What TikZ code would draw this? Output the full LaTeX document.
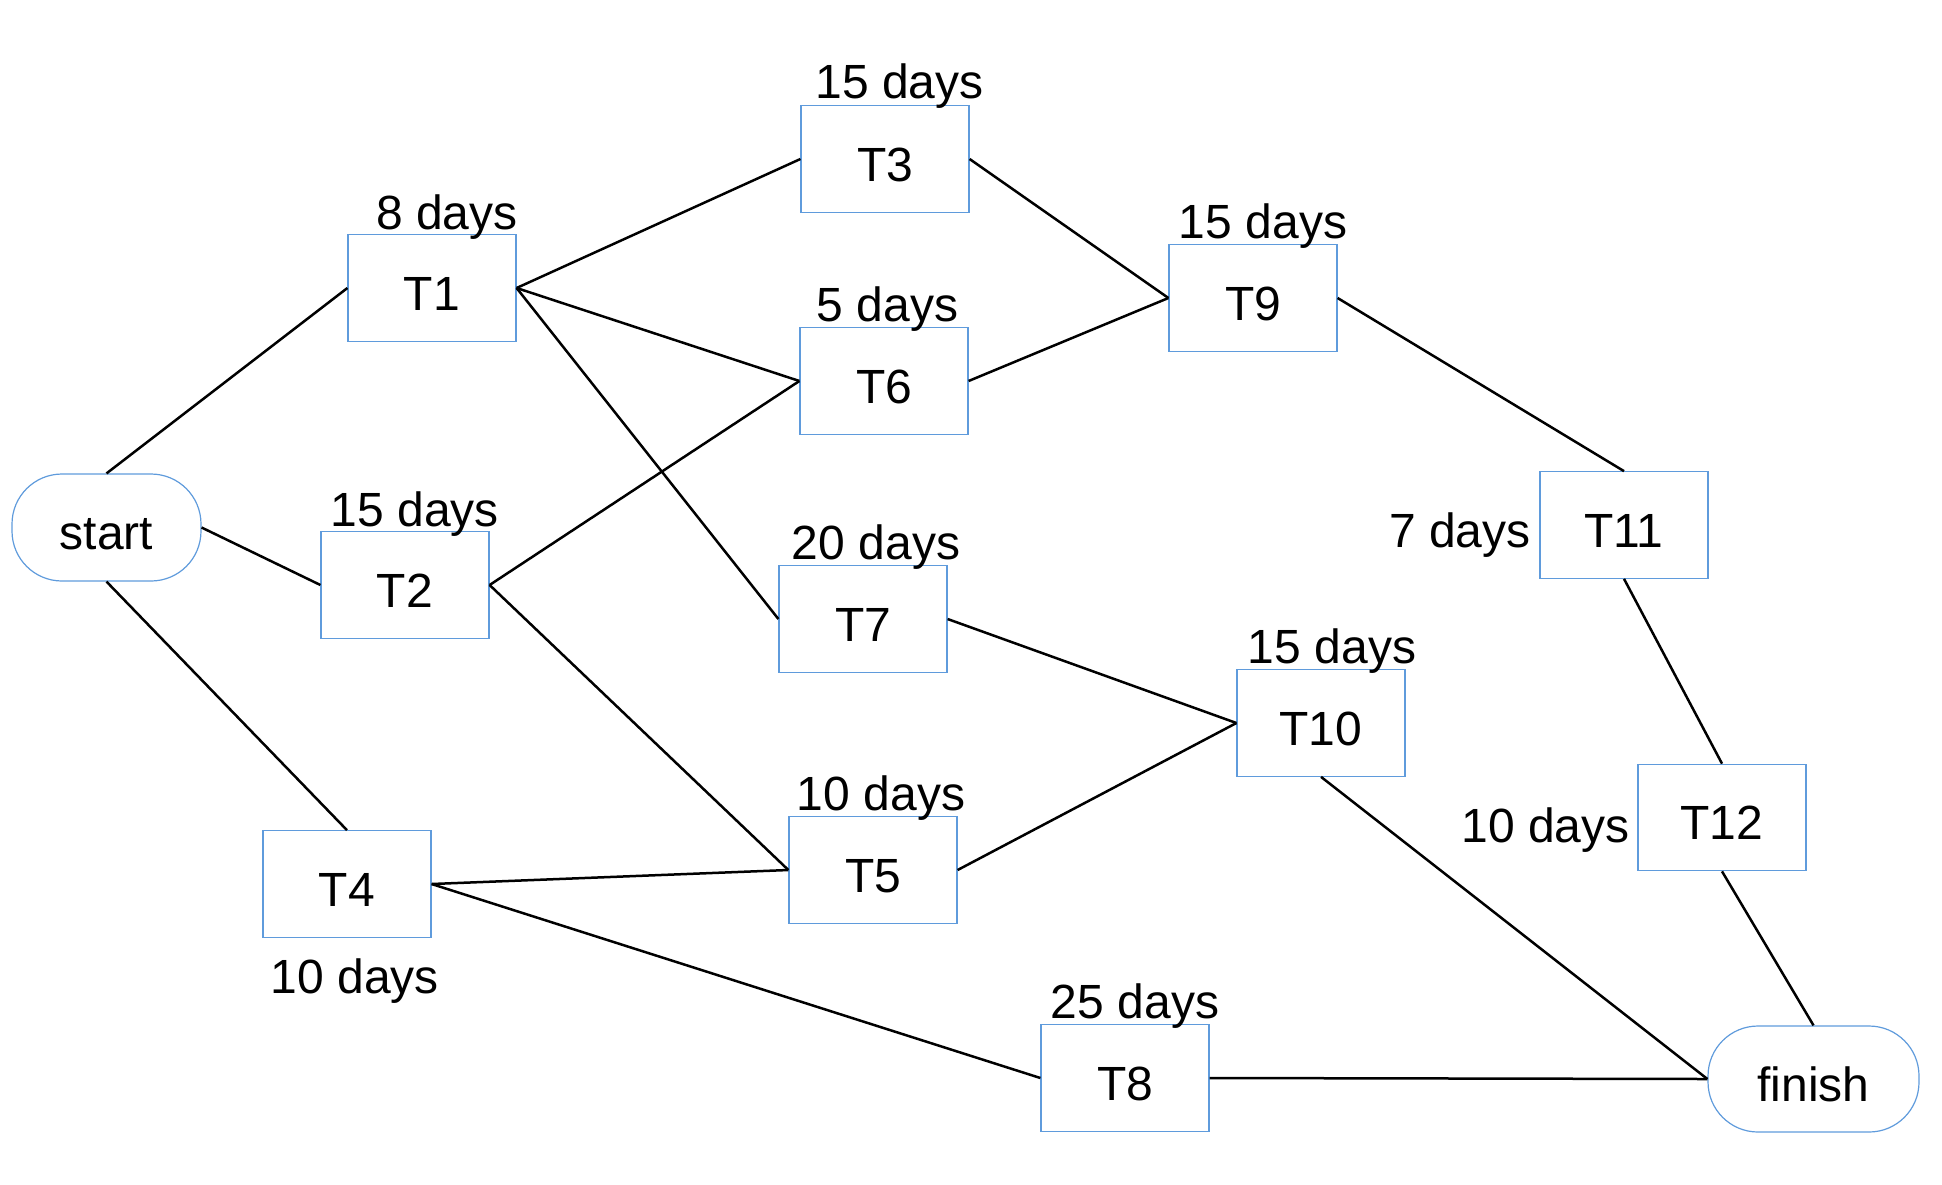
\documentclass[tikz,border=0pt]{standalone}
\usepackage{fontspec}
\setmainfont{Liberation Sans}
\definecolor{boxblue}{RGB}{95,155,220}
\tikzset{
  task/.style={draw=boxblue, line width=0.6pt, minimum width=84pt, minimum height=53.25pt, inner sep=0pt, text height=22pt, text depth=0pt, font=\fontsize{24}{28}\selectfont},
  term/.style={task, rounded corners=25pt},
  lab/.style={inner sep=0pt, font=\fontsize{24}{28}\selectfont},
  conn/.style={line width=1.25pt, black}
}
\begin{document}
\begin{tikzpicture}[x=0.5pt,y=-0.5pt]
\useasboundingbox (0,0) rectangle (1942,1184);
\node[term, minimum width=94.5pt, minimum height=53.5pt] (start) at (106.5,527.5) {start};
\node[term, minimum width=105.5pt, minimum height=53pt] (finish) at (1813.5,1079) {finish};
\node[task] (T1) at (432,288) {T1};
\node[task] (T2) at (405,585) {T2};
\node[task] (T3) at (885,159) {T3};
\node[task] (T4) at (347,884) {T4};
\node[task] (T5) at (873,870) {T5};
\node[task] (T6) at (884,381) {T6};
\node[task] (T7) at (863,619) {T7};
\node[task] (T8) at (1125,1078) {T8};
\node[task] (T9) at (1253,298) {T9};
\node[task] (T10) at (1321,723) {T10};
\node[task] (T11) at (1624,525) {T11};
\node[task] (T12) at (1722,817.5) {T12};
% labels
\node[lab, anchor=base] (l1) at (447,229) {8 days};
\node[lab, anchor=base] (l2) at (415,526) {15 days};
\node[lab, anchor=base] (l3) at (899.5,98.5) {15 days};
\node[lab, anchor=base] (l6) at (887.5,321) {5 days};
\node[lab, anchor=base] (l7) at (876,559) {20 days};
\node[lab, anchor=base] (l9) at (1263,238) {15 days};
\node[lab, anchor=base] (l10) at (1332,663) {15 days};
\node[lab, anchor=base] (l5) at (881,810) {10 days};
\node[lab, anchor=base] (l8) at (1135,1018.5) {25 days};
\node[lab, anchor=base] (l4) at (355,993) {10 days};
\node[lab, anchor=base east] (l11) at (1531,547) {7 days};
\node[lab, anchor=base east] (l12) at (1630,842) {10 days};
% connectors
\draw[conn] (start.north) -- (T1.west);
\draw[conn] (start.east) -- (T2.west);
\draw[conn] (start.south) -- (T4.north);
\draw[conn] (T1.east) -- (T3.west);
\draw[conn] (T1.east) -- (T6.west);
\draw[conn] (T1.east) -- (T7.west);
\draw[conn] (T2.east) -- (T6.west);
\draw[conn] (T2.east) -- (T5.west);
\draw[conn] (T3.east) -- (T9.west);
\draw[conn] (T6.east) -- (T9.west);
\draw[conn] (T9.east) -- (T11.north);
\draw[conn] (T11.south) -- (T12.north);
\draw[conn] (T12.south) -- (finish.north);
\draw[conn] (T7.east) -- (T10.west);
\draw[conn] (T5.east) -- (T10.west);
\draw[conn] (T4.east) -- (T5.west);
\draw[conn] (T4.east) -- (T8.west);
\draw[conn] (T10.south) -- (finish.west);
\draw[conn] (T8.east) -- (finish.west);
\end{tikzpicture}
\end{document}
